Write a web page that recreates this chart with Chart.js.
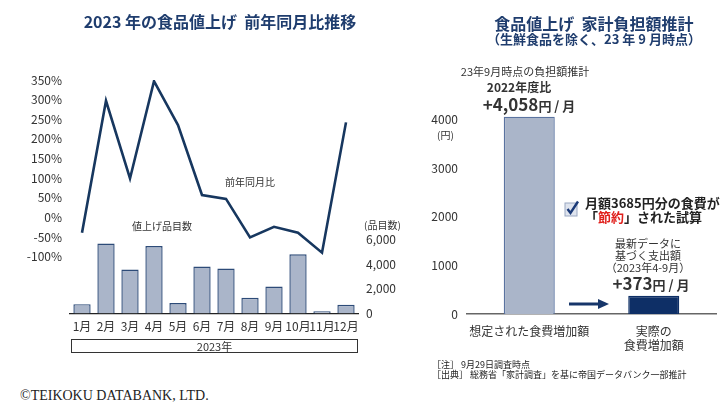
<!DOCTYPE html>
<html lang="ja">
<head>
<meta charset="UTF-8">
<title>2023年の食品値上げ</title>
<script src="https://cdn.jsdelivr.net/npm/chart.js"></script>
<style>
  body {
    margin: 0;
    width: 728px;
    height: 411px;
    position: relative;
    overflow: hidden;
    background: #fff;
    color: #333;
    font-family: 'Noto Sans CJK JP', sans-serif;
  }
  canvas { position: absolute; }
  .t { position: absolute; white-space: nowrap; z-index: 2; }
  .title { color: #1f3d6e; font-weight: bold; font-size: 16px; line-height: 20px; text-align: center; }
  .sub { color: #1f3d6e; font-weight: bold; font-size: 13px; line-height: 16px; text-align: center; }
  .small { font-size: 10px; line-height: 12px; }
  .box {
    position: absolute; left: 71px; top: 339px; width: 285px; height: 12px;
    border: 1px solid #333; font-size: 11px; line-height: 12px; text-align: center;
  }
  .copy {
    position: absolute; left: 20px; top: 388px; font-family: 'Liberation Serif', serif;
    font-size: 14px; line-height: 16px; color: #222;
  }
  .red { color: #e0201c; }
  .notes { font-size: 9px; line-height: 9.5px; color: #222; }
</style>
</head>
<body>

  <div class="t title" style="left:20px; top:11px; width:400px;">2023 年の食品値上げ&nbsp;&nbsp;前年同月比推移</div>
  <canvas id="trendChart" width="400" height="340" style="left:0; top:0;"></canvas>
  <div class="t small" style="left:225px; top:176px;">前年同月比</div>
  <div class="t small" style="left:132px; top:220px;">値上げ品目数</div>
  <div class="t small" style="left:364px; top:219px;">(品目数)</div>
  <div class="box">2023年</div>
  <div class="copy">©TEIKOKU DATABANK, LTD.</div>

  <div class="t title" style="left:444px; top:13px; width:300px;">食品値上げ&nbsp;&nbsp;家計負担額推計</div>
  <div class="t sub" style="left:444px; top:31px; width:300px;">（生鮮食品を除く、23 年 9 月時点）</div>
  <canvas id="burdenChart" width="328" height="360" style="left:400px; top:0;"></canvas>
  <div class="t" style="left:425px; top:64px; width:200px; text-align:center; font-size:11px; line-height:14px;">23年9月時点の負担額推計</div>
  <div class="t" style="left:419px; top:80px; width:200px; text-align:center; font-size:12px; line-height:14px; font-weight:bold;">2022年度比</div>
  <div class="t" style="left:429px; top:94px; width:200px; text-align:center; font-weight:bold; line-height:20px;">
    <span style="font-size:17px;">+4,058</span><span style="font-size:13px;">円 / 月</span>
  </div>
  <div class="t small" style="left:437px; top:129px;">(円)</div>

  <svg class="t" style="left:564px; top:200px;" width="16" height="17" viewBox="0 0 16 17">
    <rect x="1" y="3" width="12" height="13" fill="#dfe4ee" stroke="#9aa8c2" stroke-width="1"/>
    <path d="M3.5 9 L6.5 13 L14 1.5" fill="none" stroke="#1b3a78" stroke-width="2.4"/>
  </svg>
  <div class="t" style="left:585px; top:196px; font-size:13px; line-height:14px; font-weight:bold; color:#222;">
    月額3685円分の食費が<br>「<span class="red">節約</span>」された試算
  </div>
  <div class="t" style="left:568px; top:237px; width:160px; text-align:center; font-size:11px; line-height:12px;">
    最新データに<br>基づく支出額<br>（2023年4-9月）
  </div>
  <div class="t" style="left:571px; top:273px; width:160px; text-align:center; font-weight:bold; line-height:20px;">
    <span style="font-size:17px;">+373</span><span style="font-size:13px;">円 / 月</span>
  </div>
  <svg class="t" style="left:568px; top:298px;" width="42" height="12" viewBox="0 0 42 12">
    <line x1="1" y1="6" x2="32" y2="6" stroke="#17366a" stroke-width="3"/>
    <polygon points="30,1 41,6 30,11" fill="#17366a"/>
  </svg>

  <div class="t notes" style="left:432px; top:360px;">
    ［注］ 9月29日調査時点<br>［出典］ 総務省「家計調査」を基に帝国データバンク一部推計
  </div>

  <script>
    // 左: 前年同月比と値上げ品目数
    const months = ['1月', '2月', '3月', '4月', '5月', '6月', '7月', '8月', '9月', '10月', '11月', '12月'];
    const yoyPct = [-39, 297, 99, 347, 235, 57, 47, -51, -24, -39, -90, 242];
    const itemCounts = [750, 5650, 3550, 5450, 850, 3800, 3630, 1270, 2180, 4790, 190, 700];
    const pctTicks = [-100, -50, 0, 50, 100, 150, 200, 250, 300, 350];
    const countTicks = [0, 2000, 4000, 6000];

    // 右: 家計負担額
    const burdenLabels = ['想定された食費増加額', ['実際の', '食費増加額']];
    const burdenYen = [4058, 373];
    const yenTicks = [0, 1000, 2000, 3000, 4000];

    Chart.defaults.font.family = "'Noto Sans CJK JP', sans-serif";
    Chart.defaults.color = '#333';
    Chart.defaults.animation = false;

    new Chart(document.getElementById('trendChart').getContext('2d'), {
      type: 'bar',
      data: {
        labels: months,
        datasets: [
          {
            type: 'line',
            data: yoyPct,
            yAxisID: 'y',
            borderColor: '#17375f',
            borderWidth: 2.6,
            pointRadius: 0,
            tension: 0,
            order: 0
          },
          {
            data: itemCounts,
            yAxisID: 'y1',
            backgroundColor: '#aab5c9',
            borderColor: '#2d4b78',
            borderWidth: 1.4,
            barPercentage: 0.72,
            categoryPercentage: 1,
            order: 1
          }
        ]
      },
      options: {
        responsive: false,
        layout: { padding: { top: 80, bottom: 0, left: 0, right: 0 } },
        plugins: { legend: { display: false }, tooltip: { enabled: false } },
        scales: {
          x: {
            grid: { display: false, drawTicks: false },
            border: { display: true, color: '#222', width: 1.3 },
            ticks: { padding: 6, font: { size: 12 }, maxRotation: 0, autoSkip: false },
            afterFit: s => { s.height = 26.5; }
          },
          y: {
            position: 'left',
            min: -245,
            max: 350,
            grid: { display: false, drawTicks: false },
            border: { display: false },
            afterBuildTicks: s => { s.ticks = pctTicks.map(v => ({ value: v })); },
            ticks: { padding: 8, font: { size: 12 }, callback: v => v + '%' },
            afterFit: s => { s.width = 70; }
          },
          y1: {
            position: 'right',
            min: 0,
            max: 18880,
            grid: { display: false, drawTicks: false },
            border: { display: false },
            afterBuildTicks: s => { s.ticks = countTicks.map(v => ({ value: v })); },
            ticks: { padding: 8, font: { size: 12 }, callback: v => v.toLocaleString('en-US') },
            afterFit: s => { s.width = 42; }
          }
        }
      }
    });

    new Chart(document.getElementById('burdenChart').getContext('2d'), {
      type: 'bar',
      data: {
        labels: burdenLabels,
        datasets: [{
          data: burdenYen,
          backgroundColor: ['#aab5c9', '#0e2f66'],
          borderColor: ['#5a73a0', '#0e2f66'],
          borderWidth: 1.4,
          barPercentage: 0.41,
          categoryPercentage: 1
        }]
      },
      options: {
        responsive: false,
        layout: { padding: { top: 100, bottom: 0, left: 0, right: 12 } },
        plugins: { legend: { display: false }, tooltip: { enabled: false } },
        scales: {
          x: {
            grid: { display: false, drawTicks: false },
            border: { display: true, color: '#666', width: 1.5 },
            ticks: { padding: 10, font: { size: 12 }, maxRotation: 0, autoSkip: false },
            afterFit: s => { s.height = 46; }
          },
          y: {
            min: 0,
            max: 4400,
            grid: { display: false, drawTicks: false },
            border: { display: false },
            afterBuildTicks: s => { s.ticks = yenTicks.map(v => ({ value: v })); },
            ticks: { padding: 9, font: { size: 12 }, callback: v => String(v) },
            afterFit: s => { s.width = 67; }
          }
        }
      }
    });
  </script>

</body>
</html>
